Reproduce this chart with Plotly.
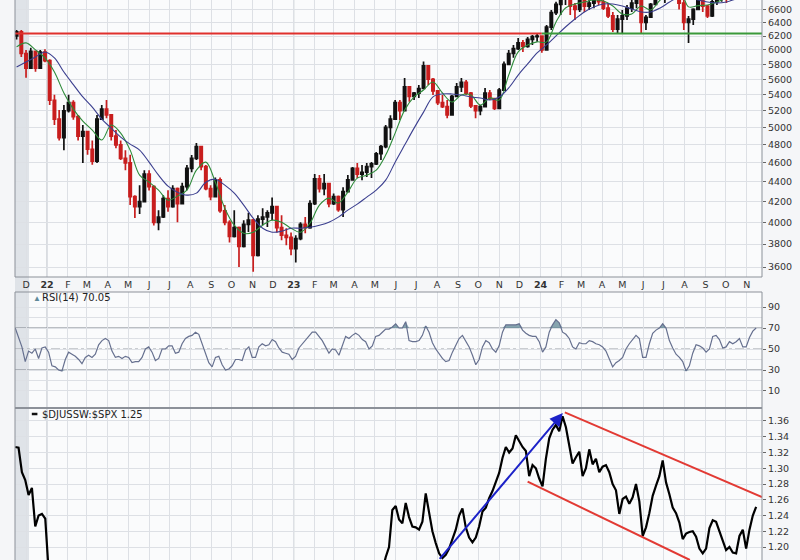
import pandas as pd
import numpy as np
import plotly.graph_objects as go

# ---------------- data ----------------
WEEK0 = "2021-11-17"   # weekly candles, one per week (Wednesday)
opens = [6200, 6260, 5950, 5750, 5980, 5750, 5970,
         5850, 5330, 5100, 4880, 5200, 5300, 5130, 4900, 4950, 4750, 4620, 5100, 5220,
         5150, 4900, 4800, 4650, 4600, 4250, 4150, 4200, 4480, 4350, 4000, 4050, 4230,
         4150, 4330, 4180, 4350, 4540, 4650, 4780, 4560, 4330, 4250, 4420, 4110, 4000,
         3870, 3950, 3780, 3980, 4020, 3700, 4030, 4050, 4090, 4150, 3950, 3880, 3860,
         3760, 3850, 3980, 3950, 4180, 4430, 4330, 4380, 4180, 4250, 4120, 4300, 4420,
         4540, 4480, 4500, 4560, 4590, 4700, 4780, 5000, 5100, 5300, 5200, 5500, 5380,
         5420, 5480, 5780, 5600, 5450, 5300, 5250, 5150, 5380, 5500, 5560, 5420, 5260,
         5200, 5250, 5420, 5350, 5230, 5460, 5800, 5950, 6020, 6100, 6050, 6150, 6190,
         6200, 6000, 6330, 6550, 6680, 6800, 6850, 6650, 6600, 6780, 6650, 6700, 6780,
         6720, 6620, 6500, 6300, 6450, 6500, 6620, 6700, 6760, 6400, 6480, 6680, 6820,
         6900, 6980, 7250, 7050, 6700, 6400, 6450, 6600, 6780, 6650, 6500, 6720, 6800,
         6840, 6760, 6900, 6950, 6920, 6830, 7250]
highs = [6290, 6290, 6000, 6030, 5990, 6000, 6010,
         5870, 5400, 5210, 5270, 5400, 5330, 5150, 5030, 4960, 4850, 5150, 5270, 5333,
         5160, 4970, 4850, 4740, 4690, 4264, 4365, 4522, 4520, 4365, 4116, 4264, 4314,
         4365, 4340, 4390, 4576, 4685, 4820, 4790, 4576, 4365, 4445, 4445, 4165, 4020,
         4116, 3960, 4020, 4090, 4030, 4068, 4135, 4116, 4240, 4160, 4068, 3945, 3905,
         3880, 4000, 4050, 4214, 4480, 4470, 4480, 4390, 4280, 4260, 4345, 4470, 4555,
         4600, 4576, 4600, 4610, 4720, 4797, 5028, 5147, 5333, 5333, 5617, 5510, 5436,
         5525, 5840, 5792, 5617, 5461, 5397, 5333, 5397, 5550, 5617, 5590, 5436, 5270,
         5270, 5487, 5461, 5360, 5487, 5840, 6000, 6071, 6170, 6143, 6187, 6216, 6245,
         6210, 6363, 6592, 6720, 6830, 6900, 6860, 6700, 6830, 6800, 6780, 6830, 6800,
         6760, 6700, 6560, 6515, 6592, 6669, 6748, 6830, 6800, 6515, 6700, 6870, 6980,
         7000, 7300, 7350, 7060, 6800, 6500, 6620, 6830, 6790, 6669, 6748, 6830, 6880,
         6860, 6920, 6980, 7000, 6980, 7300, 7450]
lows = [6150, 5900, 5620, 5740, 5700, 5740, 5830,
        5270, 5030, 4850, 4740, 5180, 5090, 4850, 4600, 4690, 4580, 4600, 5090, 5110,
        4850, 4760, 4630, 4520, 4165, 4040, 4080, 4190, 4310, 3970, 3926, 4040, 4100,
        4140, 4000, 4170, 4314, 4500, 4630, 4522, 4314, 4214, 4240, 4090, 3973, 3815,
        3860, 3600, 3770, 3910, 3560, 3690, 3973, 3955, 4020, 3905, 3835, 3790, 3702,
        3640, 3835, 3898, 3940, 4165, 4290, 4264, 4145, 4165, 4100, 4050, 4290, 4410,
        4440, 4417, 4450, 4440, 4576, 4630, 4760, 4854, 5090, 5087, 5190, 5310, 5333,
        5360, 5470, 5525, 5397, 5270, 5233, 5110, 5147, 5370, 5436, 5397, 5233, 5110,
        5147, 5240, 5333, 5208, 5220, 5450, 5792, 5890, 6000, 5970, 6030, 6071, 6115,
        5960, 5990, 6289, 6515, 6515, 6669, 6515, 6438, 6560, 6560, 6592, 6620, 6669,
        6592, 6470, 6260, 6245, 6245, 6438, 6560, 6620, 6245, 6289, 6470, 6669, 6748,
        6700, 6950, 7000, 6600, 6289, 6100, 6363, 6592, 6560, 6470, 6485, 6669, 6720,
        6700, 6740, 6850, 6860, 6800, 6800, 7200]
closes = [6260, 5950, 5750, 5980, 5750, 5970, 5850,
          5330, 5100, 4880, 5200, 5300, 5130, 4900, 4950, 4750, 4620, 5100, 5220, 5150,
          4900, 4800, 4650, 4600, 4250, 4150, 4200, 4480, 4350, 4000, 4050, 4230, 4150,
          4330, 4180, 4350, 4540, 4650, 4780, 4560, 4330, 4250, 4420, 4110, 4000, 3870,
          3950, 3780, 3980, 4020, 3700, 4030, 4050, 4090, 4150, 3950, 3880, 3860, 3760,
          3850, 3980, 3950, 4180, 4430, 4330, 4380, 4180, 4250, 4120, 4300, 4420, 4540,
          4480, 4500, 4560, 4590, 4700, 4780, 5000, 5100, 5300, 5200, 5500, 5380, 5420,
          5480, 5780, 5600, 5450, 5300, 5250, 5150, 5380, 5500, 5560, 5420, 5260, 5200,
          5250, 5420, 5350, 5230, 5460, 5800, 5950, 6020, 6100, 6050, 6150, 6190, 6200,
          6000, 6330, 6550, 6680, 6800, 6850, 6650, 6600, 6780, 6650, 6700, 6780, 6720,
          6620, 6500, 6300, 6450, 6500, 6620, 6700, 6760, 6400, 6480, 6680, 6820, 6900,
          6980, 7250, 7050, 6700, 6400, 6450, 6600, 6780, 6650, 6500, 6720, 6800, 6840,
          6760, 6900, 6950, 6920, 6830, 7250, 7420]

# moving averages, one value every second week
ma20 = [6043, 6100, 6000, 5888, 5696, 5422, 5220, 5075, 4969, 4854,
        5028, 4934, 4740, 4469, 4396, 4314, 4214, 4254, 4314, 4522,
        4608, 4396, 4135, 3973, 3898, 3908, 3973, 4020, 4001, 3945,
        3908, 3992, 4165, 4234, 4185, 4294, 4438, 4469, 4522, 4685,
        4934, 5208, 5372, 5461, 5564, 5422, 5308, 5397, 5397, 5270,
        5359, 5333, 5656, 5972, 6071, 6115, 6115, 6408, 6623, 6685,
        6716, 6748, 6732, 6654, 6530, 6530, 6654, 6592, 6748, 6877,
        6950, 6640, 6660, 6670, 6716, 6780, 6828, 6828, 6910]
ma50 = [5764, 5833, 5902, 5972, 5888, 5696, 5530, 5372, 5245, 5099,
        4992, 4888, 4808, 4740, 4608, 4469, 4355, 4294, 4264, 4284,
        4396, 4427, 4365, 4284, 4165, 4039, 3945, 3908, 3917, 3945,
        3945, 3954, 3973, 4001, 4049, 4116, 4175, 4244, 4314, 4417,
        4608, 4797, 4992, 5183, 5372, 5410, 5410, 5397, 5372, 5359,
        5333, 5372, 5487, 5656, 5806, 5958, 6071, 6202, 6333, 6453,
        6561, 6638, 6685, 6685, 6654, 6607, 6561, 6561, 6623, 6716,
        6796, 6780, 6748, 6716, 6701, 6716, 6764, 6812, 6877]

level_price = 6235                         # horizontal support/resistance level
level_split = "2024-01-03"                 # red before, green after

rsi_vals = [70, 60, 52, 38, 48, 46, 50, 41, 51, 52, 47, 34, 33, 30, 29, 40, 47, 45, 43, 40,
            36, 42, 44, 42, 45, 54, 58, 60, 58, 48, 42, 43, 41, 43, 42, 37, 38, 38, 42, 50,
            52, 47, 39, 41, 50, 50, 53, 53, 46, 47, 55, 60, 62, 63, 66, 64, 55, 45, 37, 33,
            42, 43, 35, 30, 31, 34, 40, 40, 39, 49, 52, 42, 42, 52, 55, 53, 54, 59, 57, 51,
            47, 46, 45, 40, 43, 51, 55, 59, 62, 66, 66, 62, 58, 52, 46, 50, 49, 44, 53, 62,
            60, 63, 65, 63, 59, 57, 50, 53, 62, 63, 66, 69, 69, 71, 74, 70, 70, 76, 58, 57,
            57, 58, 63, 72, 66, 56, 50, 45, 41, 38, 39, 47, 54, 60, 63, 58, 52, 44, 35, 40,
            52, 58, 56, 50, 47, 53, 66, 73, 73, 73, 73, 74, 68, 65, 63, 62, 62, 57, 47, 52,
            66, 73, 78, 75, 66, 64, 60, 52, 50, 56, 55, 55, 58, 57, 55, 54, 52, 48, 40, 33,
            37, 39, 42, 50, 55, 59, 63, 60, 42, 42, 55, 65, 68, 70, 74, 70, 58, 51, 45, 42,
            38, 29, 34, 46, 54, 53, 51, 47, 50, 62, 63, 59, 51, 52, 57, 55, 57, 60, 52, 52,
            61, 67, 70.05]

ratio_vals = ([1.327, 1.326, 1.295, 1.285, 1.266, 1.275, 1.226, 1.240, 1.242, 1.236, 1.17]
              + [None] * 99 +
              [1.17, 1.187, 1.200, 1.247, 1.252, 1.235, 1.230, 1.256, 1.238, 1.226,
               1.225, 1.222, 1.232, 1.268, 1.244, 1.220, 1.205, 1.192, 1.186, 1.190,
               1.198, 1.210, 1.222, 1.240, 1.249, 1.225, 1.212, 1.206, 1.212, 1.226,
               1.245, 1.250, 1.262, 1.271, 1.282, 1.294, 1.313, 1.327, 1.320, 1.325,
               1.342, 1.334, 1.327, 1.322, 1.290, 1.304, 1.300, 1.287, 1.277, 1.312,
               1.338, 1.349, 1.355, 1.347, 1.366, 1.352, 1.330, 1.306, 1.314, 1.321,
               1.290, 1.300, 1.324, 1.305, 1.312, 1.295, 1.302, 1.304, 1.295, 1.280,
               1.272, 1.242, 1.261, 1.264, 1.255, 1.263, 1.280, 1.258, 1.214, 1.225,
               1.243, 1.265, 1.278, 1.290, 1.310, 1.282, 1.267, 1.250, 1.243, 1.231,
               1.210, 1.217, 1.219, 1.220, 1.213, 1.198, 1.192, 1.198, 1.224, 1.234,
               1.232, 1.220, 1.210, 1.196, 1.200, 1.193, 1.192, 1.214, 1.222, 1.198,
               1.222, 1.240, 1.251])

arrow_dates = ["2023-08-03", "2024-02-03"]
arrow_vals = [1.183, 1.370]
upper_dates = ["2024-02-06", "2024-11-23 16:00"]
upper_vals = [1.371, 1.2635]
lower_dates = ["2023-12-13", "2024-08-09"]
lower_vals = [1.283, 1.1835]

month_ticks = pd.date_range("2021-12-01", "2024-11-01", freq="MS")
month_labels = ["D", "<b>22</b>", "F", "M", "A", "M", "J", "J", "A", "S", "O", "N",
                "D", "<b>23</b>", "F", "M", "A", "M", "J", "J", "A", "S", "O", "N",
                "D", "<b>24</b>", "F", "M", "A", "M", "J", "J", "A", "S", "O", "N"]
year_starts = ["2022-01-01", "2023-01-01", "2024-01-01"]

price_ticks = list(range(3600, 6801, 200))
rsi_ticks = [10, 30, 50, 70, 90]
ratio_ticks = [1.20, 1.22, 1.24, 1.26, 1.28, 1.30, 1.32, 1.34, 1.36]

# ---------------- derived ----------------
weeks = pd.date_range(WEEK0, periods=len(closes), freq="7D")
ma_dates = weeks[::2]
rsi_dates = pd.date_range("2021-11-15", "2024-11-15", periods=len(rsi_vals))
ratio_dates = pd.date_range("2021-11-15", "2024-11-15", periods=len(ratio_vals))
X_RANGE = ["2021-11-14 16:00", "2024-11-23 16:00"]
PRICE_RANGE = [3517, 6748]

W, H = 800, 560
def py(p):  # pixel y -> paper
    return 1 - p / H
def px(p):
    return p / W

D_MAIN = [py(277), 1.0]
D_RSI = [py(408), py(292)]
D_RAT = [0.0, py(408)]

fig = go.Figure()

fig.add_trace(go.Candlestick(
    x=weeks, open=opens, high=highs, low=lows, close=closes,
    increasing=dict(line=dict(color="#111111", width=1.7), fillcolor="#111111"),
    decreasing=dict(line=dict(color="#c81e1e", width=1.7), fillcolor="#c81e1e"),
    whiskerwidth=0, xaxis="x", yaxis="y", showlegend=False, hoverinfo="skip"))
fig.add_trace(go.Scatter(x=ma_dates, y=ma20, mode="lines", xaxis="x", yaxis="y",
                         line=dict(color="#2e8b3a", width=1.1, shape="spline"), showlegend=False))
fig.add_trace(go.Scatter(x=ma_dates, y=ma50, mode="lines", xaxis="x", yaxis="y",
                         line=dict(color="#3b3f8f", width=1.1, shape="spline"), showlegend=False))
fig.add_trace(go.Scatter(x=[X_RANGE[0], level_split], y=[level_price, level_price], mode="lines",
                         xaxis="x", yaxis="y", line=dict(color="#e0302c", width=2), showlegend=False))
fig.add_trace(go.Scatter(x=[level_split, X_RANGE[1]], y=[level_price, level_price], mode="lines",
                         xaxis="x", yaxis="y", line=dict(color="#3a9a3a", width=2), showlegend=False))

# RSI with fills beyond 70 / 30
rsi_arr = np.array(rsi_vals, dtype=float)
fig.add_trace(go.Scatter(x=rsi_dates, y=np.full(len(rsi_arr), 70.0), mode="lines", xaxis="x2", yaxis="y2",
                         line=dict(width=0), showlegend=False, hoverinfo="skip"))
fig.add_trace(go.Scatter(x=rsi_dates, y=np.maximum(rsi_arr, 70), mode="lines", xaxis="x2", yaxis="y2",
                         line=dict(width=0), fill="tonexty", fillcolor="rgba(95,135,150,0.75)",
                         showlegend=False, hoverinfo="skip"))
fig.add_trace(go.Scatter(x=rsi_dates, y=np.full(len(rsi_arr), 30.0), mode="lines", xaxis="x2", yaxis="y2",
                         line=dict(width=0), showlegend=False, hoverinfo="skip"))
fig.add_trace(go.Scatter(x=rsi_dates, y=np.minimum(rsi_arr, 30), mode="lines", xaxis="x2", yaxis="y2",
                         line=dict(width=0), fill="tonexty", fillcolor="rgba(95,135,150,0.75)",
                         showlegend=False, hoverinfo="skip"))
fig.add_trace(go.Scatter(x=rsi_dates, y=rsi_vals, mode="lines", xaxis="x2", yaxis="y2",
                         line=dict(color="#66708f", width=1.2), showlegend=False))

fig.add_trace(go.Scatter(x=ratio_dates, y=ratio_vals, mode="lines", xaxis="x3", yaxis="y3",
                         line=dict(color="#000000", width=2.2), showlegend=False, connectgaps=False))
fig.add_trace(go.Scatter(x=upper_dates, y=upper_vals, mode="lines", xaxis="x3", yaxis="y3",
                         line=dict(color="#e23a34", width=2), showlegend=False))
fig.add_trace(go.Scatter(x=lower_dates, y=lower_vals, mode="lines", xaxis="x3", yaxis="y3",
                         line=dict(color="#e23a34", width=2), showlegend=False))

tickfont = dict(family="DejaVu Sans, Verdana, sans-serif", size=9.5, color="#333333")
GRID = "#dde0e5"
xcommon = dict(type="date", range=X_RANGE, showgrid=True, gridcolor=GRID, gridwidth=1,
               tickvals=month_ticks, ticktext=month_labels, zeroline=False, showline=False)
ycommon = dict(side="right", showgrid=True, gridcolor=GRID, gridwidth=1, zeroline=False,
               ticks="outside", ticklen=3, tickcolor="#666666", tickfont=tickfont, showline=False)

layout = dict(
    width=W, height=H, margin=dict(l=15, r=38, t=0, b=0),
    paper_bgcolor="#f5f6f8", plot_bgcolor="#fafbfc", showlegend=False,
    xaxis=dict(**xcommon, domain=[0, 1], anchor="y", showticklabels=True, tickfont=tickfont,
               ticks="", rangeslider=dict(visible=False)),
    xaxis2=dict(**xcommon, domain=[0, 1], anchor="y2", showticklabels=False, matches="x"),
    xaxis3=dict(**xcommon, domain=[0, 1], anchor="y3", showticklabels=False, matches="x"),
    yaxis=dict(**ycommon, type="log", domain=D_MAIN, anchor="x",
               range=[np.log10(PRICE_RANGE[0]), np.log10(PRICE_RANGE[1])], tickvals=price_ticks,
               ticktext=[str(v) for v in price_ticks]),
    yaxis2=dict(**ycommon, domain=D_RSI, anchor="x2", range=[-6.2, 104.3], tickvals=rsi_ticks,
                minor=dict(tickvals=[20, 40, 60, 80], showgrid=True, gridcolor=GRID, ticks="")),
    yaxis3=dict(**ycommon, domain=D_RAT, anchor="x3", range=[1.1835, 1.3765], tickvals=ratio_ticks,
                tickformat=".2f"),
)
fig.update_layout(**layout)

shapes = []
# left grey strip
shapes.append(dict(type="rect", xref="paper", yref="paper", x0=0, x1=px(15), y0=0, y1=1,
                   fillcolor="#dfe3e8", line=dict(width=0), layer="below"))
# year gridlines
for yx, yr in (("x", "y"), ("x2", "y2"), ("x3", "y3")):
    for d in year_starts:
        shapes.append(dict(type="line", xref=yx, yref=yr + " domain", x0=d, x1=d, y0=0, y1=1,
                           line=dict(color="#b8bdc5", width=1), layer="below"))
# RSI reference lines
for v, dash, col in ((70, "solid", "#7b808a"), (30, "solid", "#7b808a"), (50, "dashdot", "#9a9ea6")):
    shapes.append(dict(type="line", xref="x2 domain", yref="y2", x0=0, x1=1, y0=v, y1=v,
                       line=dict(color=col, width=1, dash=dash), layer="below"))
# panel borders
BORDER = dict(color="#8c9199", width=1)
shapes.append(dict(type="line", xref="x domain", yref="y domain", x0=0, x1=0, y0=0, y1=1, line=BORDER))
shapes.append(dict(type="line", xref="x domain", yref="y domain", x0=1, x1=1, y0=0, y1=1, line=BORDER))
shapes.append(dict(type="line", xref="x domain", yref="y domain", x0=0, x1=1, y0=0, y1=0, line=BORDER))
shapes.append(dict(type="rect", xref="x2 domain", yref="y2 domain", x0=0, x1=1, y0=0, y1=1, line=BORDER))
shapes.append(dict(type="line", xref="x3 domain", yref="y3 domain", x0=0, x1=0, y0=0, y1=1, line=BORDER))
shapes.append(dict(type="line", xref="x3 domain", yref="y3 domain", x0=1, x1=1, y0=0, y1=1, line=BORDER))
shapes.append(dict(type="line", xref="x3 domain", yref="y3 domain", x0=0, x1=1, y0=1, y1=1,
                   line=dict(color="#8c9199", width=2)))
# legend swatch of the ratio panel
shapes.append(dict(type="line", xref="paper", yref="paper", x0=px(18), x1=px(24), y0=py(414), y1=py(414),
                   line=dict(color="#111111", width=2.5)))
fig.update_layout(shapes=shapes)

labfont = dict(family="DejaVu Sans, Verdana, sans-serif", size=10, color="#222222")
fig.add_annotation(xref="paper", yref="paper", x=px(27), y=py(297), xanchor="left", yanchor="middle",
                   text="RSI(14) 70.05", showarrow=False, font=labfont)
fig.add_annotation(xref="paper", yref="paper", x=px(17), y=py(297), xanchor="left", yanchor="middle",
                   text="▲", showarrow=False, font=dict(size=8, color="#5f8a9a"))
fig.add_annotation(xref="paper", yref="paper", x=px(27), y=py(414), xanchor="left", yanchor="middle",
                   text="$DJUSSW:$SPX 1.25", showarrow=False, font=labfont)
fig.add_annotation(x=arrow_dates[1], y=arrow_vals[1], ax=arrow_dates[0], ay=arrow_vals[0],
                   xref="x3", yref="y3", axref="x3", ayref="y3", text="", showarrow=True,
                   arrowhead=2, arrowsize=1.3, arrowwidth=2, arrowcolor="#1c22c8")

fig.write_html("out.html", config={"displayModeBar": False},
               post_script="document.body.style.margin='0';document.body.style.padding='0';"
                           "document.body.style.overflow='hidden';")
